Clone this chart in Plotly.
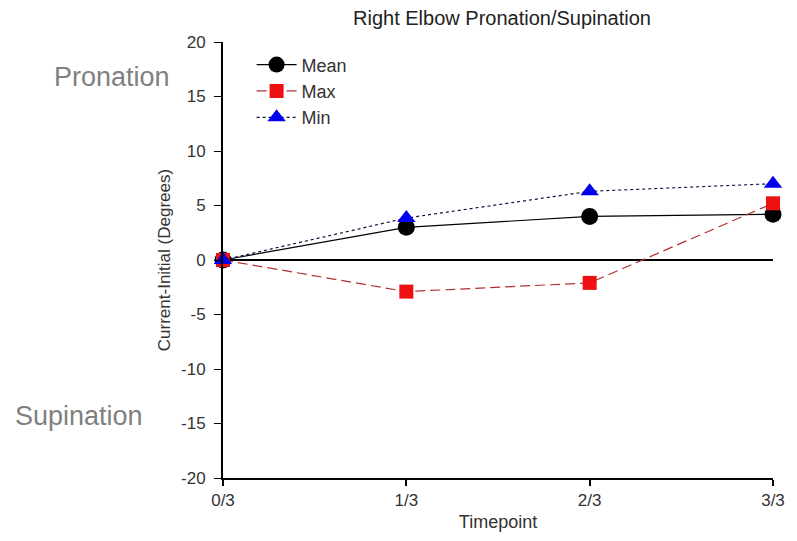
import plotly.graph_objects as go

timepoints = ["0/3", "1/3", "2/3", "3/3"]
mean_vals = [0, 3.0, 4.0, 4.2]
max_vals = [0, -2.9, -2.1, 5.2]
min_vals = [0, 3.85, 6.3, 7.0]
y_ticks = [-20, -15, -10, -5, 0, 5, 10, 15, 20]
y_tick_text = [str(v) for v in y_ticks]

fig = go.Figure()
fig.add_trace(go.Scatter(
    x=timepoints, y=mean_vals, name="Mean", mode="lines+markers",
    line=dict(color="black", width=1.2),
    marker=dict(symbol="circle", size=17, color="black"),
    cliponaxis=False))
fig.add_trace(go.Scatter(
    x=timepoints, y=max_vals, name="Max", mode="lines+markers",
    line=dict(color="#b03030", width=1.2, dash="10px,5px"),
    marker=dict(symbol="square", size=14, color="#ee1111"),
    cliponaxis=False))
fig.add_trace(go.Scatter(
    x=timepoints, y=min_vals, name="Min", mode="lines+markers",
    line=dict(color="#101040", width=1.2, dash="dot"),
    marker=dict(symbol="triangle-up", size=16, color="#0000ee"),
    cliponaxis=False))

pw = 797 - 223 - 15
ph = 541 - 42 - 63
side_labels = ["Pronation", "Supination"]
side_pos = [(110, 77), (77, 416)]
anns = []
for txt, (px, py) in zip(side_labels, side_pos):
    anns.append(dict(text=txt, x=(px - 223) / pw, y=1 - (py - 42) / ph,
                     xref="paper", yref="paper", showarrow=False,
                     xanchor="center", yanchor="middle",
                     font=dict(size=27, color="#808080")))

fig.update_layout(
    width=797, height=541,
    margin=dict(l=223, r=15, t=42, b=63),
    paper_bgcolor="white", plot_bgcolor="white",
    font=dict(family="Liberation Sans, Arial, sans-serif", size=16, color="#333"),
    title=dict(text="Right Elbow Pronation/Supination", x=502 / 797, xanchor="center",
               y=1 - 18 / 541, yanchor="middle", yref="container",
               font=dict(size=20, color="#222")),
    showlegend=True,
    legend=dict(x=0.052, y=0.99, xanchor="left", yanchor="top",
                traceorder="normal", bgcolor="rgba(0,0,0,0)",
                font=dict(size=18, color="#333"), itemwidth=40, tracegroupgap=0),
    xaxis=dict(type="category", range=[0, 3], showline=True, linecolor="black",
               linewidth=2, ticks="outside", ticklen=6, tickwidth=2, tickcolor="black",
               showgrid=False, zeroline=False, tickfont=dict(size=17),
               title=dict(text="Timepoint", standoff=6, font=dict(size=18))),
    yaxis=dict(range=[-20, 20], tickvals=y_ticks, ticktext=y_tick_text,
               showline=True, linecolor="black",
               linewidth=2, ticks="outside", ticklen=7, tickwidth=1, tickcolor="black",
               ticklabelstandoff=5,
               showgrid=False, zeroline=True, zerolinecolor="black", zerolinewidth=2,
               tickfont=dict(size=17),
               title=dict(text="Current-Initial (Degrees)", standoff=6, font=dict(size=17))),
    annotations=anns,
)

fig.write_html("out.html")
